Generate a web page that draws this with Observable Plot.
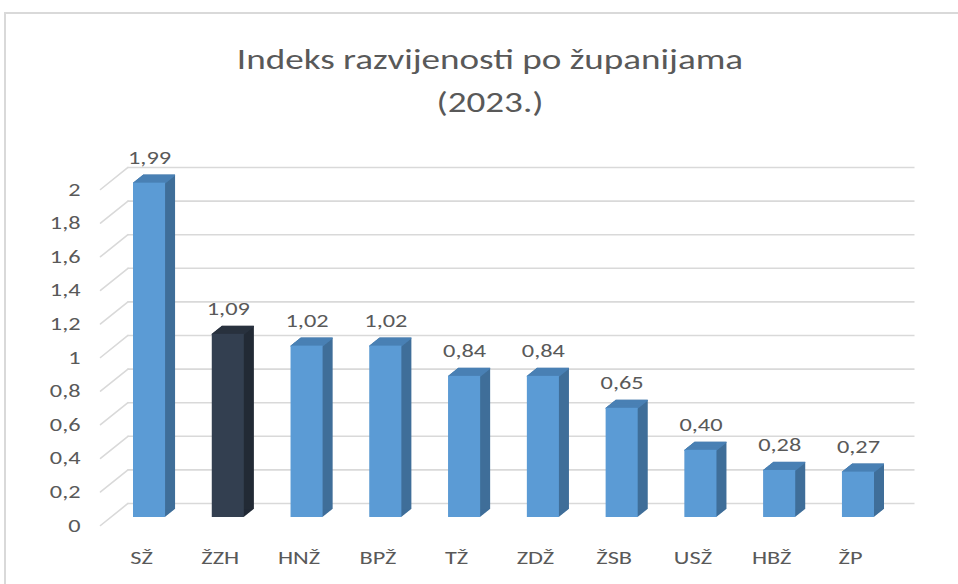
<!DOCTYPE html>
<html>
<head>
<meta charset="utf-8">
<script src="https://cdn.jsdelivr.net/npm/d3@7"></script>
<script src="https://cdn.jsdelivr.net/npm/@observablehq/plot@0.6"></script>
<style>
  html, body { margin: 0; padding: 0; background: #fff; }
  body { width: 958px; height: 584px; overflow: hidden; position: relative; font-family: Carlito, Lato, "Open Sans", sans-serif; }
  #box { position: absolute; left: 4px; top: 12px; width: 1200px; height: 800px; border: 2px solid #d9d9d9; box-sizing: border-box; }
  #title { position: absolute; left: 0; top: 38px; width: 980px; text-align: center; color: #595959; font-size: 29px; line-height: 43px; font-weight: 300; transform: scaleX(1.28); transform-origin: 490px 0; }
  #chart { position: absolute; left: 0; top: 140px; }
</style>
</head>
<body>
<div id="box"></div>
<div id="title"><div>Indeks razvijenosti po županijama</div><div>(2023.)</div></div>
<div id="chart"></div>
<script>
const counties = ["SŽ", "ŽZH", "HNŽ", "BPŽ", "TŽ", "ZDŽ", "ŽSB", "USŽ", "HBŽ", "ŽP"];
const values = [1.99, 1.09, 1.02, 1.02, 0.84, 0.84, 0.65, 0.40, 0.28, 0.27];
const yTicks = [0, 0.2, 0.4, 0.6, 0.8, 1, 1.2, 1.4, 1.6, 1.8, 2];
const highlighted = "ŽZH";

const data = counties.map((name, i) => ({name, value: values[i]}));
const comma = v => String(v).replace(".", ",");
const fmt2 = v => v.toFixed(2).replace(".", ",");

const FRONT = "#5b9bd5", SIDE = "#3f6e99", TOP = "#4a80b4";
const DFRONT = "#333f50", DSIDE = "#222a35", DTOP = "#29323f";
const isHi = d => d.name === highlighted;
const TXT = "#595959";
const FONT = "Carlito, Lato, 'Open Sans', sans-serif";

const depth = 10, slope = 0.8;
const steps = d3.range(0.5, depth + 0.01, 0.5);

const lineShape = { draw(context, l) { context.moveTo(0, 0); context.lineTo(0, -l); } };

const marks = [
  // back-wall gridlines
  Plot.ruleY(yTicks, {y: d => d, dx: 17.5, dy: -14, stroke: "#d9d9d9", strokeWidth: 1.6}),
  // floor diagonals (side wall)
  Plot.vector(yTicks, {y: d => d, frameAnchor: "left", dx: -10, dy: 8, length: 35.2, rotate: 51.3, anchor: "start", shape: lineShape, stroke: "#d9d9d9", strokeWidth: 1.6}),
  // side faces (extrusion sweep)
  ...steps.map(t => Plot.rectY(data, {x: "name", y: "value", fill: d => isHi(d) ? DSIDE : SIDE, dx: t, dy: -slope * t})),
  // top faces
  ...[0, ...steps].map(t => Plot.tickY(data, {x: "name", y: "value", stroke: d => isHi(d) ? DTOP : TOP, strokeWidth: 1.2, dx: t, dy: -slope * t})),
  // front faces
  Plot.rectY(data, {x: "name", y: "value", fill: d => isHi(d) ? DFRONT : FRONT}),
  // value labels
  Plot.text(data, {x: "name", y: "value", text: d => fmt2(d.value), lineAnchor: "bottom", dy: -19, fill: TXT, fontSize: 19, fontFamily: FONT}),
  // y tick labels
  Plot.text(yTicks, {y: d => d, text: d => comma(d), frameAnchor: "left", textAnchor: "end", dx: -30, dy: 8, fill: TXT, fontSize: 19, fontFamily: FONT}),
  // category labels
  Plot.text(data, {x: "name", text: "name", frameAnchor: "bottom", lineAnchor: "bottom", dx: -8, dy: 46, fill: TXT, fontSize: 19, fontFamily: FONT})
];

const chart = Plot.plot({
  width: 958,
  height: 444,
  marginLeft: 110,
  marginRight: 61,
  marginTop: 41,
  marginBottom: 67,
  style: {background: "transparent", overflow: "visible"},
  x: {domain: counties, paddingInner: 0.593, paddingOuter: 0.292, round: false, axis: null},
  y: {domain: [0, 2], axis: null},
  marks
});
document.getElementById("chart").appendChild(chart);
// widen glyphs slightly to match the reference's horizontally stretched lettering
chart.querySelectorAll("text").forEach(el => {
  const w = el.getComputedTextLength();
  if (w > 0) {
    el.setAttribute("textLength", (w * 1.28).toFixed(1));
    el.setAttribute("lengthAdjust", "spacingAndGlyphs");
  }
});
</script>
</body>
</html>
